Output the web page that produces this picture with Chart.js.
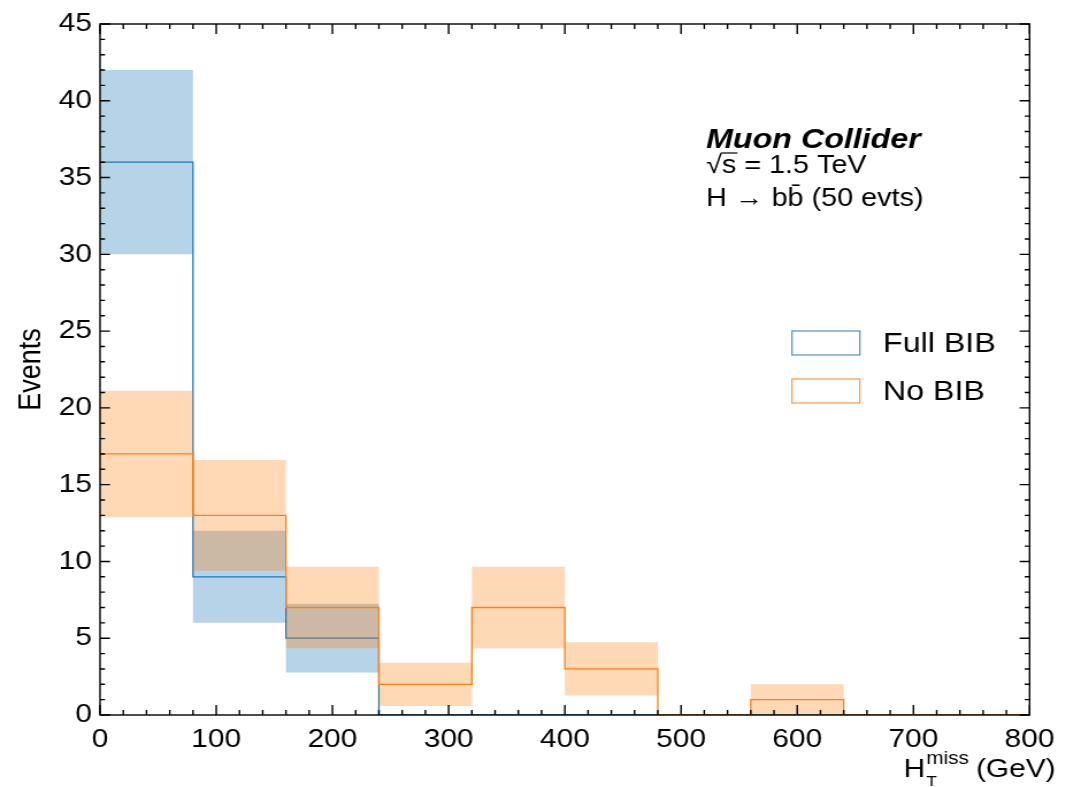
<!DOCTYPE html>
<html>
<head>
<meta charset="utf-8">
<script src="https://cdn.jsdelivr.net/npm/chart.js@4.4.0/dist/chart.umd.min.js"></script>
<style>
  html, body { margin: 0; padding: 0; background: #fff; overflow: hidden; }
  /* the figure is drawn narrow and widened, like the original wide-aspect export */
  #wrap { width: 926px; height: 787px; transform: scaleX(1.15); transform-origin: 0 0; }
</style>
</head>
<body>
<div id="wrap"><canvas id="histChart"></canvas></div>
<script>
// histogram bins (GeV) and counts per bin
const binEdges = [0, 80, 160, 240, 320, 400, 480, 560, 640, 720, 800];
const fullBib = [36, 9, 5, 0, 0, 0, 0, 0, 0, 0];
const fullBibErr = [6, 3, 2.24, 0, 0, 0, 0, 0, 0, 0];
const noBib = [17, 13, 7, 2, 7, 3, 0, 1, 0, 0];
const noBibErr = [4.12, 3.61, 2.65, 1.41, 2.65, 1.73, 0, 1, 0, 0];

const xTicks = [0, 100, 200, 300, 400, 500, 600, 700, 800];
const yTicks = [0, 5, 10, 15, 20, 25, 30, 35, 40, 45];
const seriesLabels = ['Full BIB', 'No BIB'];
const infoLines = ['Muon Collider', '\u221As = 1.5 TeV', 'H \u2192 bb\u0304 (50 evts)'];

const FONT = "'Liberation Sans', Arial, sans-serif";
const BLUE = '#1f77b4';
const ORANGE = '#ff7f0e';
const BLUE_BAND = 'rgba(31,119,180,0.32)';
const ORANGE_BAND = 'rgba(255,127,14,0.3)';
const NONE = 'rgba(0,0,0,0)';

Chart.defaults.font.family = FONT;
Chart.defaults.color = '#000';

// turn per-bin values into points for a step line (last value repeated at the right edge)
function stepPoints(values) {
    const pts = values.map((v, i) => ({ x: binEdges[i], y: v }));
    pts.push({ x: binEdges[binEdges.length - 1], y: values[values.length - 1] });
    return pts;
}

function lowEdge(values, errs) {
    return values.map((v, i) => Math.max(0, v - errs[i]));
}

function highEdge(values, errs) {
    return values.map((v, i) => v + errs[i]);
}

const lineBase = { stepped: true, pointRadius: 0, pointHoverRadius: 0, tension: 0 };

const datasets = [
    { ...lineBase, label: 'fullLow', data: stepPoints(lowEdge(fullBib, fullBibErr)),
      borderColor: NONE, borderWidth: 0, fill: false, order: 6 },
    { ...lineBase, label: 'fullHigh', data: stepPoints(highEdge(fullBib, fullBibErr)),
      borderColor: NONE, borderWidth: 0, fill: 0, backgroundColor: BLUE_BAND, order: 5 },
    { ...lineBase, label: seriesLabels[0], data: stepPoints(fullBib),
      borderColor: BLUE, borderWidth: 1.3, fill: false, order: 4 },
    { ...lineBase, label: 'noLow', data: stepPoints(lowEdge(noBib, noBibErr)),
      borderColor: NONE, borderWidth: 0, fill: false, order: 3 },
    { ...lineBase, label: 'noHigh', data: stepPoints(highEdge(noBib, noBibErr)),
      borderColor: NONE, borderWidth: 0, fill: 3, backgroundColor: ORANGE_BAND, order: 2 },
    { ...lineBase, label: seriesLabels[1], data: stepPoints(noBib),
      borderColor: ORANGE, borderWidth: 1.3, fill: false, order: 1 }
];

// box around the plot with inward major/minor ticks on all sides
const framePlugin = {
    id: 'frame',
    afterDraw(chart) {
        const { ctx, chartArea: a, scales: { x, y } } = chart;
        ctx.save();
        ctx.strokeStyle = '#000';
        ctx.lineWidth = 1.4;
        ctx.strokeRect(a.left, a.top, a.right - a.left, a.bottom - a.top);
        ctx.beginPath();
        for (let v = x.min; v <= x.max; v += 20) {
            const px = x.getPixelForValue(v);
            const len = v % 100 === 0 ? 10 : 5;
            ctx.moveTo(px, a.bottom); ctx.lineTo(px, a.bottom - len);
            ctx.moveTo(px, a.top); ctx.lineTo(px, a.top + len);
        }
        for (let v = y.min; v <= y.max; v += 1) {
            const py = y.getPixelForValue(v);
            const len = v % 5 === 0 ? 8.7 : 4.3;
            ctx.moveTo(a.left, py); ctx.lineTo(a.left + len, py);
            ctx.moveTo(a.right, py); ctx.lineTo(a.right - len, py);
        }
        ctx.stroke();
        ctx.restore();
    }
};

// legend boxes, info block and the x-axis label with sub/superscripts
const labelsPlugin = {
    id: 'labels',
    afterDraw(chart) {
        const { ctx } = chart;
        ctx.save();
        ctx.fillStyle = '#000';
        ctx.textBaseline = 'alphabetic';
        ctx.textAlign = 'left';

        // legend
        const legendColors = ['rgba(31,119,180,0.75)', 'rgba(255,127,14,0.75)'];
        seriesLabels.forEach((name, i) => {
            const top = 331 + i * 48;
            ctx.strokeStyle = legendColors[i];
            ctx.lineWidth = 1.3;
            ctx.strokeRect(688.7, top, 59, 24);
            ctx.font = `28px ${FONT}`;
            ctx.fillText(name, 767.8, top + 21);
        });

        // info block
        const ix = 614;
        ctx.font = `italic bold 28px ${FONT}`;
        ctx.fillText(infoLines[0], ix, 148);
        ctx.font = `25px ${FONT}`;
        ctx.fillText(infoLines[1], ix, 173);
        const rootW = ctx.measureText('\u221A').width;
        const sW = ctx.measureText('s').width;
        ctx.lineWidth = 1.2;
        ctx.strokeStyle = '#000';
        ctx.beginPath();
        ctx.moveTo(ix + rootW - 1, 173 - 20);
        ctx.lineTo(ix + rootW + sW + 1, 173 - 20);
        ctx.stroke();
        ctx.fillText(infoLines[2], ix, 206);

        // x-axis title: H_T^miss (GeV)
        const right = 921;
        ctx.font = `26px ${FONT}`;
        const hW = ctx.measureText('H').width;
        const unitW = ctx.measureText(' (GeV)').width;
        ctx.font = `18px ${FONT}`;
        const supW = ctx.measureText('miss').width;
        let px = right - unitW - supW - hW - 3;
        ctx.font = `26px ${FONT}`;
        ctx.fillText('H', px, 777);
        px += hW;
        ctx.font = `18px ${FONT}`;
        ctx.fillText('miss', px + 1, 764);
        ctx.font = `15px ${FONT}`;
        ctx.fillText('T', px + 1, 786);
        px += supW;
        ctx.font = `26px ${FONT}`;
        ctx.fillText(' (GeV)', px, 777);
        ctx.restore();
    }
};

new Chart(document.getElementById('histChart'), {
    type: 'line',
    data: { datasets: datasets },
    options: {
        responsive: true,
        maintainAspectRatio: false,
        animation: false,
        events: [],
        layout: { padding: { left: 0, top: 24, right: 29.5, bottom: 0 } },
        plugins: {
            legend: { display: false },
            tooltip: { enabled: false }
        },
        scales: {
            x: {
                type: 'linear',
                min: 0,
                max: 800,
                afterBuildTicks(scale) { scale.ticks = xTicks.map(v => ({ value: v })); },
                afterFit(scale) { scale.height = 72; },
                grid: { display: false, drawTicks: false },
                border: { display: false },
                ticks: { font: { size: 26 }, color: '#000', padding: 9, maxRotation: 0, autoSkip: false }
            },
            y: {
                type: 'linear',
                min: 0,
                max: 45,
                afterBuildTicks(scale) { scale.ticks = yTicks.map(v => ({ value: v })); },
                afterFit(scale) { scale.width = 87; },
                grid: { display: false, drawTicks: false },
                border: { display: false },
                ticks: { font: { size: 26 }, color: '#000', padding: 7, autoSkip: false },
                title: { display: true, text: 'Events', font: { size: 27 }, color: '#000', padding: { top: 11, bottom: 0 } }
            }
        }
    },
    plugins: [framePlugin, labelsPlugin]
});
</script>
</body>
</html>
